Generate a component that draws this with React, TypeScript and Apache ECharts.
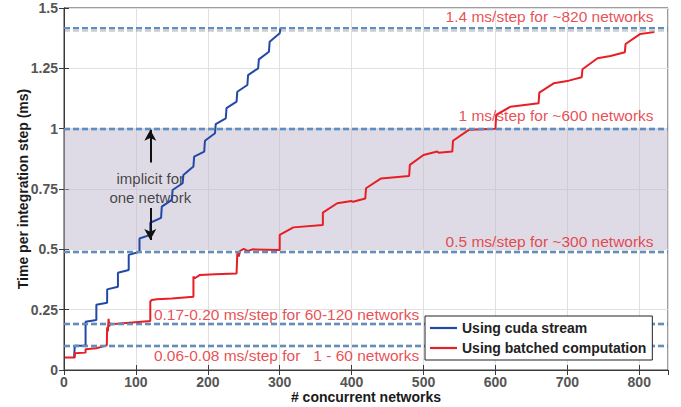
import React, { useEffect, useRef } from "react";
import * as echarts from "echarts";

// ---- data ----
const blueName = "Using cuda stream";
const redName = "Using batched computation";

const blueX = [14, 15, 30, 30, 45, 45, 60, 60, 75, 75, 90, 90, 105, 105, 120, 120, 135, 136, 150, 151, 165, 166, 180, 181, 195, 196, 210, 211, 225, 226, 240, 241, 255, 256, 270, 271, 285, 286, 300, 301];
const blueY = [0.052, 0.10, 0.10, 0.20, 0.207, 0.27, 0.279, 0.334, 0.345, 0.403, 0.414, 0.477, 0.49, 0.545, 0.56, 0.61, 0.63, 0.677, 0.705, 0.746, 0.774, 0.808, 0.843, 0.884, 0.905, 0.95, 0.981, 1.019, 1.043, 1.085, 1.112, 1.153, 1.181, 1.222, 1.25, 1.287, 1.319, 1.36, 1.395, 1.418];

const redX = [1, 15, 15, 30, 30, 45, 59.5, 60, 61, 62, 63, 64, 66, 120, 120, 122, 129, 150, 180, 180, 182, 189, 210, 240, 241, 243, 245, 250, 256, 262, 300, 300, 319, 360, 360, 380, 400, 402, 419, 420, 441, 480, 481, 500, 519, 521, 540, 541, 563, 600, 601, 621, 660, 661, 681, 702, 720, 721, 742, 760, 780, 781, 801, 821];
const redY = [0.052, 0.052, 0.069, 0.072, 0.086, 0.09, 0.102, 0.177, 0.16, 0.212, 0.18, 0.193, 0.19, 0.203, 0.283, 0.29, 0.293, 0.296, 0.304, 0.387, 0.38, 0.394, 0.397, 0.40, 0.483, 0.47, 0.494, 0.502, 0.493, 0.5, 0.497, 0.56, 0.591, 0.601, 0.652, 0.691, 0.70, 0.697, 0.711, 0.753, 0.794, 0.804, 0.85, 0.891, 0.905, 0.90, 0.905, 0.95, 0.995, 1.0, 1.057, 1.091, 1.105, 1.149, 1.188, 1.199, 1.213, 1.246, 1.292, 1.301, 1.317, 1.351, 1.392, 1.40];

const refLevels = [1.416, 1.0, 0.49, 0.19, 0.10];
const bandRange = [0.5, 1.0];

const noteTexts = [
  "1.4 ms/step for ~820 networks",
  "1 ms/step for ~600 networks",
  "0.5 ms/step for ~300 networks",
  "0.17-0.20 ms/step for 60-120 networks",
  "0.06-0.08 ms/step for \u00a0 1 - 60 networks",
];
const noteX = [820, 820, 820, 125, 125];
const noteY = [1.464, 1.053, 0.532, 0.228, 0.062];
const noteAlign = ["right", "right", "right", "left", "left"];

const implicitText = "implicit for\none network";
const implicitPos = [120, 0.756];
const arrowUp = [[120, 0.86], [120, 0.995]];
const arrowDown = [[120, 0.671], [120, 0.539]];

const FONT = "'Liberation Sans', Arial, Helvetica, sans-serif";
const AXIS_COLOR = "#3a3a3a";

export default function App() {
  const ref = useRef<HTMLDivElement>(null);
  useEffect(() => {
    if (!ref.current) return;
    const chart = echarts.init(ref.current, undefined, { renderer: "svg" });
    const bluePts = blueX.map((x, i) => [x, blueY[i]]);
    const redPts = redX.map((x, i) => [x, redY[i]]);
    const notes = noteTexts.map((t, i) => ({
      value: [noteX[i], noteY[i]],
      label: {
        show: true,
        formatter: t,
        position: noteAlign[i] === "right" ? "left" : "right",
        distance: 0,
        color: "#e32228",
        fontSize: 15.5,
        fontFamily: FONT,
      },
    }));

    const option: any = {
      animation: false,
      textStyle: { fontFamily: FONT },
      grid: {
        left: 64,
        right: 13,
        top: 8,
        bottom: 37,
        outerBoundsMode: "none",
        containLabel: false,
        show: true,
        borderColor: AXIS_COLOR,
        borderWidth: 1,
      },
      legend: {
        data: [blueName, redName],
        orient: "vertical",
        left: 425,
        top: 316,
        z: 20,
        backgroundColor: "#ffffff",
        borderColor: "#222",
        borderWidth: 1,
        padding: [5, 6, 5, 5],
        itemGap: 6,
        itemWidth: 27,
        itemHeight: 2.2,
        icon: "rect",
        textStyle: { fontWeight: "bold", fontSize: 14, color: "#222", fontFamily: FONT },
      },
      xAxis: [
        {
          type: "value",
          min: 0,
          max: 840,
          interval: 100,
          name: "# concurrent networks",
          nameLocation: "middle",
          nameGap: 20,
          nameMoveOverlap: false,
          nameTextStyle: { fontWeight: "bold", fontSize: 14, lineHeight: 14, color: "#1a1a1a", fontFamily: FONT },
          axisLine: { show: true, lineStyle: { color: AXIS_COLOR } },
          axisTick: { show: true, inside: true, length: 5, lineStyle: { color: AXIS_COLOR } },
          axisLabel: { fontWeight: "bold", fontSize: 14, lineHeight: 14, color: "#555", margin: 5, showMaxLabel: false, fontFamily: FONT },
          splitLine: { show: true, lineStyle: { color: "#e0e0e0" } },
        },
        {
          type: "value",
          position: "top",
          min: 0,
          max: 840,
          interval: 100,
          axisLine: { show: true, lineStyle: { color: AXIS_COLOR } },
          axisTick: { show: true, inside: true, length: 5, lineStyle: { color: AXIS_COLOR } },
          axisLabel: { show: false },
          splitLine: { show: false },
        },
      ],
      yAxis: [
        {
          type: "value",
          min: 0,
          max: 1.5,
          interval: 0.25,
          name: "Time per integration step (ms)",
          nameLocation: "middle",
          nameGap: 34,
          nameMoveOverlap: false,
          nameTextStyle: { fontWeight: "bold", fontSize: 14, color: "#1a1a1a", fontFamily: FONT },
          axisLine: { show: true, lineStyle: { color: AXIS_COLOR } },
          axisTick: { show: true, inside: true, length: 5, lineStyle: { color: AXIS_COLOR } },
          axisLabel: { fontWeight: "bold", fontSize: 14, color: "#555", margin: 6, fontFamily: FONT },
          splitLine: { show: true, lineStyle: { color: "#e0e0e0" } },
        },
        {
          type: "value",
          position: "right",
          min: 0,
          max: 1.5,
          interval: 0.25,
          axisLine: { show: true, lineStyle: { color: AXIS_COLOR } },
          axisTick: { show: true, inside: true, length: 5, lineStyle: { color: AXIS_COLOR } },
          axisLabel: { show: false },
          splitLine: { show: false },
        },
      ],
      series: [
        {
          name: "band",
          type: "line",
          data: [],
          silent: true,
          markArea: {
            silent: true,
            itemStyle: { color: "rgba(190,184,205,0.5)" },
            data: [[{ yAxis: bandRange[0] }, { yAxis: bandRange[1] }]],
          },
        },
        {
          name: "refShadow",
          type: "line",
          data: [],
          silent: true,
          markLine: {
            silent: true,
            symbol: ["none", "none"],
            label: { show: false },
            lineStyle: { color: "rgba(90,90,90,0.3)", type: [6, 3], width: 3.5 },
            data: refLevels.map((v) => ({ yAxis: v - 0.004 })),
          },
        },
        {
          name: "refs",
          type: "line",
          data: [],
          silent: true,
          markLine: {
            silent: true,
            symbol: ["none", "none"],
            label: { show: false },
            lineStyle: { color: "#5b8fca", type: [6, 3], width: 2 },
            data: refLevels.map((v) => ({ yAxis: v })),
          },
        },
        {
          name: "arrows",
          type: "line",
          data: [],
          silent: true,
          markLine: {
            silent: true,
            symbol: ["none", "arrow"],
            symbolSize: [9, 11],
            label: { show: false },
            lineStyle: { color: "#111", type: "solid", width: 2 },
            data: [
              [{ coord: arrowUp[0] }, { coord: arrowUp[1] }],
              [{ coord: arrowDown[0] }, { coord: arrowDown[1] }],
            ],
          },
        },
        {
          name: blueName,
          type: "line",
          data: bluePts,
          symbol: "none",
          showSymbol: false,
          lineStyle: { color: "#2349a6", width: 2 },
          itemStyle: { color: "#2349a6" },
        },
        {
          name: redName,
          type: "line",
          data: redPts,
          symbol: "none",
          showSymbol: false,
          lineStyle: { color: "#e81e25", width: 2 },
          itemStyle: { color: "#e81e25" },
        },
        {
          name: "notes",
          type: "scatter",
          symbolSize: 0,
          silent: true,
          data: [
            ...notes,
            {
              value: implicitPos,
              label: {
                show: true,
                formatter: implicitText,
                position: "inside",
                color: "#1a1a1a",
                fontSize: 15,
                lineHeight: 19,
                align: "center",
                fontFamily: FONT,
              },
            },
          ],
        },
      ],
    };
    chart.setOption(option);
    return () => chart.dispose();
  }, []);
  return <div ref={ref} style={{ width: 681, height: 407, position: "absolute", left: 0, top: 0 }} />;
}
